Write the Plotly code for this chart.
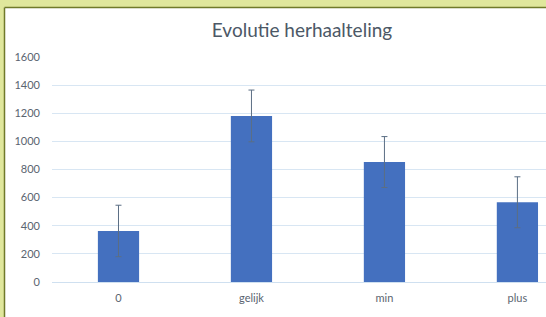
import plotly.graph_objects as go

categories = ["0", "gelijk", "min", "plus"]
means = [363, 1181, 853, 567]
errors = [183, 184, 181, 181]
y_ticks = [0, 200, 400, 600, 800, 1000, 1200, 1400, 1600]

W, H = 546, 317
L, R, T, B = 52, 0, 57, 35
pw, ph = W - L - R, H - T - B

def px(x):
    return (x - L) / pw

def py(y):
    return (H - B - y) / ph

fig = go.Figure()
fig.add_trace(go.Bar(
    x=categories, y=means, width=0.31,
    marker=dict(color="#4470bf", line=dict(width=0)),
    error_y=dict(type="data", array=errors, visible=True,
                 color="#5b6e84", thickness=1, width=3),
))

band = "#e0e79c"
dark = "#707a2a"
shapes = [
    dict(type="rect", xref="paper", yref="paper", x0=px(0), x1=px(W), y0=py(0), y1=py(7),
         fillcolor=band, line=dict(width=0), layer="above"),
    dict(type="rect", xref="paper", yref="paper", x0=px(0), x1=px(4), y0=py(0), y1=py(H),
         fillcolor=band, line=dict(width=0), layer="above"),
    dict(type="line", xref="paper", yref="paper", x0=px(4.5), x1=px(W), y0=py(7.5), y1=py(7.5),
         line=dict(color=dark, width=1.5), layer="above"),
    dict(type="line", xref="paper", yref="paper", x0=px(4.5), x1=px(4.5), y0=py(7.5), y1=py(H),
         line=dict(color=dark, width=1.5), layer="above"),
]

fig.update_layout(
    width=W, height=H,
    margin=dict(l=L, r=R, t=T, b=B),
    paper_bgcolor="white", plot_bgcolor="white",
    showlegend=False,
    font=dict(family="Lato", color="#5a6470"),
    title=dict(text="Evolutie herhaalteling", x=302 / W, xanchor="center",
               y=1 - 30 / H, yanchor="middle",
               font=dict(family="Lato", size=19, color="#4c5866")),
    shapes=shapes,
    bargap=0.5,
)
fig.update_xaxes(range=[-0.5, 3.215], showgrid=False, showline=False, zeroline=False,
                 tickfont=dict(size=11, color="#5a6470"), ticks="", ticklabelstandoff=8)
fig.update_yaxes(range=[0, 1600], tickvals=y_ticks, showgrid=True, gridcolor="#d8e6f3",
                 gridwidth=1, zeroline=True, zerolinecolor="#cfe0f0", zerolinewidth=1,
                 showline=False, tickfont=dict(size=11, color="#5a6470"), ticks="",
                 ticklabelstandoff=11)

fig.write_html("out.html", config={"displayModeBar": False},
               post_script="document.body.style.margin='0';")
